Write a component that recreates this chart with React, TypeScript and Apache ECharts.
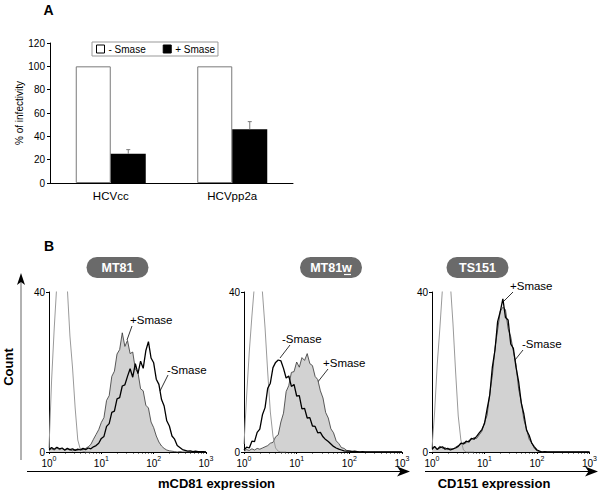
import React, { useEffect, useRef } from "react";
import * as echarts from "echarts";

// ---------- Panel A data ----------
const CATEGORIES = ["HCVcc", "HCVpp2a"];
const MINUS_SMASE = [100, 100];
const PLUS_SMASE = [25, 46];
const PLUS_SMASE_ERR = [3.6, 6.6];

// ---------- Panel B data ----------
// histogram channel positions (fluorescence, log scale)
const BINS = [
  1, 1.122, 1.259, 1.413, 1.585, 1.778, 1.995, 2.239, 2.512, 2.818,
  3.162, 3.548, 3.981, 4.467, 5.012, 5.623, 6.31, 7.079, 7.943, 8.913,
  10, 11.22, 12.59, 14.13, 15.85, 17.78, 19.95, 22.39, 25.12, 28.18,
  31.62, 35.48, 39.81, 44.67, 50.12, 56.23, 63.1, 70.79, 79.43, 89.13,
  100, 112.2, 125.9, 141.3, 158.5, 177.8, 199.5, 223.9, 251.2, 281.8,
  316.2, 354.8, 398.1, 446.7, 501.2, 562.3, 631, 707.9, 794.3, 891.3,
  1000,
];

const MT81_ISO = [1, 18, 31, 42, 46, 43, 47, 41, 29, 21, 11, 3, 0.6, 0.2, 0, 0, 0];
const MT81_PLUS = [
  0.4, 0.8, 0.5, 1.0, 0.6, 0.9, 0.4, 0.7, 0.5, 0.3,
  0.6, 0.4, 0.8, 0.6, 0.9, 1.3, 1.9, 3.2, 4.4, 5.6,
  7.4, 8.6, 12.9, 14.1, 18.9, 20.2, 24.5, 25.6, 29.8, 26.4,
  27.9, 24.6, 25.0, 20.7, 19.9, 15.8, 15.3, 11.7, 11.0, 7.5,
  6.1, 4.0, 2.5, 1.5, 0.9, 0.5, 0.3, 0.2, 0.1, 0,
  0.1, 0, 0, 0, 0, 0, 0, 0, 0, 0,
  0,
];
const MT81_MINUS = [
  0.6, 1.1, 0.7, 1.2, 0.8, 1.0, 0.5, 0.9, 0.6, 0.8,
  0.4, 0.7, 0.5, 0.9, 0.6, 1.0, 0.8, 1.3, 1.6, 2.2,
  3.4, 3.9, 6.4, 7.1, 9.9, 10.2, 13.3, 13.6, 16.5, 16.8,
  18.9, 20.8, 18.7, 22.1, 19.6, 22.7, 20.9, 25.3, 27.6, 23.5,
  22.3, 18.2, 16.9, 13.1, 11.5, 7.8, 6.5, 4.0, 3.2, 1.6,
  1.1, 0.6, 0.4, 0.2, 0.3, 0.1, 0.2, 0.1, 0.1, 0.1,
  0,
];

const MT81W_ISO = [2, 14, 25, 34, 42, 46, 44, 40, 31, 20, 10, 4, 1, 0.2, 0, 0, 0];
const MT81W_MINUS = [
  0.5, 1.2, 1.0, 2.7, 2.6, 4.9, 5.7, 9.3, 11.1, 15.9,
  17.2, 21.1, 22.4, 23.0, 22.8, 20.9, 18.5, 19.0, 16.4, 16.9,
  14.0, 14.1, 10.8, 10.9, 8.5, 8.6, 6.5, 6.4, 4.8, 4.9,
  3.8, 3.1, 2.6, 2.0, 1.4, 1.0, 0.7, 0.5, 0.3, 0.2,
  0.2, 0.1, 0.2, 0.1, 0, 0.1, 0, 0, 0, 0,
  0, 0, 0, 0, 0, 0, 0, 0, 0, 0,
  0,
];
const MT81W_PLUS = [
  0.3, 0.6, 0.4, 0.8, 0.5, 0.9, 0.7, 1.0, 1.3, 1.6,
  2.2, 2.4, 3.8, 4.3, 7.5, 9.7, 15.1, 16.6, 19.9, 20.1,
  22.5, 21.2, 23.6, 22.9, 24.6, 22.1, 21.6, 18.9, 18.1, 15.3,
  13.5, 9.9, 8.5, 5.8, 4.8, 2.8, 2.1, 1.1, 0.9, 0.4,
  0.3, 0.2, 0.1, 0, 0, 0, 0, 0, 0, 0,
  0, 0, 0, 0, 0, 0, 0, 0, 0, 0,
  0,
];

const TS151_ISO = [1, 10, 22, 31, 41, 45, 47, 42, 32, 20, 9, 3, 0.5, 0, 0, 0, 0];
const TS151_PLUS = [
  0.5, 1.2, 0.8, 1.5, 0.9, 1.1, 0.6, 0.9, 0.7, 1.2,
  1.6, 1.9, 2.4, 2.2, 2.9, 3.1, 3.6, 3.4, 4.3, 5.2,
  7.4, 9.2, 14.6, 19.2, 26.0, 30.5, 35.2, 36.2, 35.6, 30.8,
  28.8, 25.2, 21.9, 15.8, 12.6, 8.1, 5.8, 3.2, 2.3, 0.9,
  0.3, 0.1, 0, 0, 0, 0, 0, 0, 0, 0,
  0, 0, 0, 0, 0, 0, 0, 0, 0, 0,
  0,
];
const TS151_MINUS = [
  0.8, 1.4, 0.6, 1.1, 1.3, 0.7, 0.9, 0.5, 0.8, 1.0,
  1.4, 2.2, 2.0, 2.7, 2.5, 3.4, 3.2, 3.9, 4.8, 5.6,
  7.1, 10.8, 14.2, 21.3, 25.5, 32.6, 35.1, 38.3, 33.6, 33.0,
  27.0, 25.9, 21.2, 17.6, 12.3, 9.5, 5.5, 4.2, 2.2, 1.3,
  0.5, 0.2, 0, 0.1, 0, 0, 0, 0, 0, 0,
  0, 0, 0, 0, 0, 0, 0, 0, 0, 0,
  0,
];

const PANELS = [
  { name: "MT81", iso: MT81_ISO, plus: MT81_PLUS, minus: MT81_MINUS },
  { name: "MT81w", iso: MT81W_ISO, plus: MT81W_PLUS, minus: MT81W_MINUS },
  { name: "TS151", iso: TS151_ISO, plus: TS151_PLUS, minus: TS151_MINUS },
];

const FONT = 'Arial, "Liberation Sans", Helvetica, sans-serif';

const toPairs = (vals: number[]) => vals.map((v, i) => [BINS[i], v]);

export default function App() {
  const ref = useRef<HTMLDivElement>(null);

  useEffect(() => {
    if (!ref.current) return;
    const chart = echarts.init(ref.current, null, { renderer: "svg" });

    const histGrids = [
      { left: 49, top: 292, width: 157, height: 160 },
      { left: 244, top: 292, width: 158, height: 160 },
      { left: 432, top: 292, width: 158, height: 160 },
    ];

    const xAxes: any[] = [
      {
        type: "category",
        gridIndex: 0,
        data: CATEGORIES,
        axisLine: { lineStyle: { color: "#000", width: 1 } },
        axisTick: { show: false },
        axisLabel: { color: "#000", fontSize: 11.5, fontFamily: FONT, margin: 7 },
      },
    ];
    const yAxes: any[] = [
      {
        type: "value",
        gridIndex: 0,
        min: 0,
        max: 120,
        interval: 20,
        name: "% of infectivity",
        nameLocation: "middle",
        nameGap: 24,
        nameTextStyle: { color: "#000", fontSize: 10, fontFamily: FONT },
        axisLine: { show: true, lineStyle: { color: "#000", width: 1 } },
        axisTick: { show: true, length: 3, lineStyle: { color: "#000" } },
        axisLabel: { color: "#000", fontSize: 10, fontFamily: FONT, margin: 5 },
        splitLine: { show: false },
      },
    ];

    histGrids.forEach((_, i) => {
      xAxes.push({
        type: "log",
        logBase: 10,
        gridIndex: i + 1,
        min: 1,
        max: 1000,
        axisLine: { lineStyle: { color: "#000", width: 1 } },
        axisTick: { show: true, length: 2, lineStyle: { color: "#000" } },
        minorTick: { show: true, splitNumber: 9, length: 1.5, lineStyle: { color: "#000" } },
        splitLine: { show: false },
        axisLabel: {
          color: "#000",
          fontFamily: FONT,
          margin: 3,
          showMinLabel: true,
          showMaxLabel: true,
          formatter: (v: number) => `{b|10}{s|${Math.round(Math.log10(v))}}`,
          rich: {
            b: { fontSize: 10, fontFamily: FONT, color: "#000", verticalAlign: "bottom", lineHeight: 13 },
            s: { fontSize: 7, fontFamily: FONT, color: "#000", verticalAlign: "top", lineHeight: 13, padding: [0, 0, 5, 0] },
          },
        },
      });
      yAxes.push({
        type: "value",
        gridIndex: i + 1,
        min: 0,
        max: 40,
        interval: 40,
        axisLine: { show: true, lineStyle: { color: "#000", width: 1 } },
        axisTick: { show: true, length: 3, lineStyle: { color: "#000" } },
        axisLabel: { color: "#000", fontSize: 10, fontFamily: FONT, margin: 4 },
        splitLine: { show: false },
      });
    });

    const series: any[] = [
      {
        name: "- Smase",
        type: "bar",
        xAxisIndex: 0,
        yAxisIndex: 0,
        data: MINUS_SMASE,
        barWidth: 35,
        barGap: "0%",
        itemStyle: { color: "#fff", borderColor: "#7a7a7a", borderWidth: 1 },
      },
      {
        name: "+ Smase",
        type: "bar",
        xAxisIndex: 0,
        yAxisIndex: 0,
        data: PLUS_SMASE,
        barWidth: 35,
        barGap: "0%",
        itemStyle: { color: "#000" },
      },
      {
        name: "err",
        type: "custom",
        xAxisIndex: 0,
        yAxisIndex: 0,
        z: 5,
        data: PLUS_SMASE.map((v, i) => [i, v, PLUS_SMASE_ERR[i]]),
        encode: { x: 0, y: 1 },
        renderItem: (params: any, api: any) => {
          const idx = api.value(0);
          const v = api.value(1);
          const e = api.value(2);
          const p0 = api.coord([idx, v]);
          const p1 = api.coord([idx, v + e]);
          const x = p0[0] + 17.5;
          const st = { stroke: "#7a7a7a", lineWidth: 1 };
          return {
            type: "group",
            children: [
              { type: "line", shape: { x1: x, y1: p0[1], x2: x, y2: p1[1] }, style: st },
              { type: "line", shape: { x1: x - 2, y1: p1[1], x2: x + 2, y2: p1[1] }, style: st },
            ],
          };
        },
      },
    ];

    PANELS.forEach((p, i) => {
      const ax = i + 1;
      series.push({
        name: p.name + " +Smase",
        type: "line",
        xAxisIndex: ax,
        yAxisIndex: ax,
        data: toPairs(p.plus),
        symbol: "none",
        clip: true,
        z: 2,
        lineStyle: { color: "#333", width: 0.8 },
        areaStyle: { color: "#d2d2d2", opacity: 1 },
      });
      series.push({
        name: p.name + " isotype",
        type: "line",
        xAxisIndex: ax,
        yAxisIndex: ax,
        data: toPairs(p.iso),
        symbol: "none",
        clip: true,
        z: 3,
        lineStyle: { color: "#9a9a9a", width: 1 },
      });
      series.push({
        name: p.name + " -Smase",
        type: "line",
        xAxisIndex: ax,
        yAxisIndex: ax,
        data: toPairs(p.minus),
        symbol: "none",
        clip: true,
        z: 4,
        lineStyle: { color: "#000", width: 1.3 },
      });
    });

    const txt = (x: number, y: number, text: string, extra: any = {}) => ({
      type: "text",
      x,
      y,
      style: {
        text,
        fill: "#000",
        font: `11.5px ${FONT}`,
        textAlign: "left",
        textVerticalAlign: "middle",
        ...extra,
      },
    });
    const seg = (x1: number, y1: number, x2: number, y2: number, stroke = "#000", lineWidth = 0.8) => ({
      type: "line",
      shape: { x1, y1, x2, y2 },
      style: { stroke, lineWidth },
    });
    const badge = (cx: number, label: string) => ({
      type: "group",
      children: [
        {
          type: "rect",
          shape: { x: cx - 31, y: 257, width: 62, height: 21, r: 10.5 },
          style: { fill: "#6a6a6a" },
        },
        {
          type: "text",
          x: cx,
          y: 267.5,
          style: {
            text: label,
            fill: "#fff",
            font: `bold 12.5px ${FONT}`,
            textAlign: "center",
            textVerticalAlign: "middle",
          },
        },
      ],
    });

    const graphic: any[] = [
      txt(48.5, 9.5, "A", { font: `bold 14px ${FONT}`, textAlign: "center" }),
      txt(49, 246, "B", { font: `bold 14px ${FONT}`, textAlign: "center" }),
      badge(117.5, "MT81"),
      badge(331, "MT81w"),
      seg(344, 274.5, 351, 274.5, "#fff", 1.2),
      badge(477.5, "TS151"),
      // Count axis arrow
      seg(21, 281, 21, 460, "#999", 1.5),
      { type: "polygon", shape: { points: [[21, 273], [17, 285], [21, 282], [25, 285]] }, style: { fill: "#000" } },
      {
        type: "text",
        x: 8.5,
        y: 367,
        rotation: Math.PI / 2,
        style: {
          text: "Count",
          fill: "#000",
          font: `bold 13px ${FONT}`,
          textAlign: "center",
          textVerticalAlign: "middle",
        },
      },
      // expression arrows
      seg(27, 471.5, 402, 471.5, "#000", 1.2),
      { type: "polygon", shape: { points: [[410, 471.5], [397, 466.5], [400.5, 471.5], [397, 476.5]] }, style: { fill: "#000" } },
      seg(425, 471.5, 590, 471.5, "#000", 1.2),
      { type: "polygon", shape: { points: [[598, 471.5], [585, 466.5], [588.5, 471.5], [585, 476.5]] }, style: { fill: "#000" } },
      txt(216.5, 483, "mCD81 expression", { font: `bold 13px ${FONT}`, textAlign: "center" }),
      txt(494, 483, "CD151 expression", { font: `bold 13px ${FONT}`, textAlign: "center" }),
      // annotations
      txt(130, 320, "+Smase"),
      seg(132, 326, 127, 340),
      txt(167, 370, "-Smase"),
      seg(168, 375, 160, 391),
      txt(282, 339, "-Smase"),
      seg(290, 345, 280, 358),
      txt(323, 363, "+Smase"),
      seg(328, 369, 317, 383),
      txt(510, 286, "+Smase"),
      seg(513, 292, 503, 302),
      txt(522, 344, "-Smase"),
      seg(523, 350, 515, 360),
    ];

    const option: any = {
      animation: false,
      backgroundColor: "#fff",
      textStyle: { fontFamily: FONT },
      legend: {
        data: [
          { name: "- Smase", itemStyle: { color: "#fff", borderColor: "#000", borderWidth: 1 } },
          { name: "+ Smase", itemStyle: { color: "#000", borderColor: "#000", borderWidth: 1 } },
        ],
        left: 92,
        top: 42,
        icon: "rect",
        itemWidth: 8,
        itemHeight: 8,
        itemGap: 17,
        padding: [2, 3, 2, 4],
        borderColor: "#999",
        borderWidth: 1,
        textStyle: { color: "#000", fontSize: 10, fontFamily: FONT, padding: [0, 0, 0, -1] },
        selectedMode: false,
      },
      grid: [{ left: 50, top: 43, width: 243, height: 140 }, ...histGrids],
      xAxis: xAxes,
      yAxis: yAxes,
      series,
      graphic,
    };

    chart.setOption(option);
    return () => chart.dispose();
  }, []);

  return (
    <div
      ref={ref}
      style={{ position: "fixed", left: 0, top: 0, width: 600, height: 490, background: "#fff" }}
    />
  );
}
